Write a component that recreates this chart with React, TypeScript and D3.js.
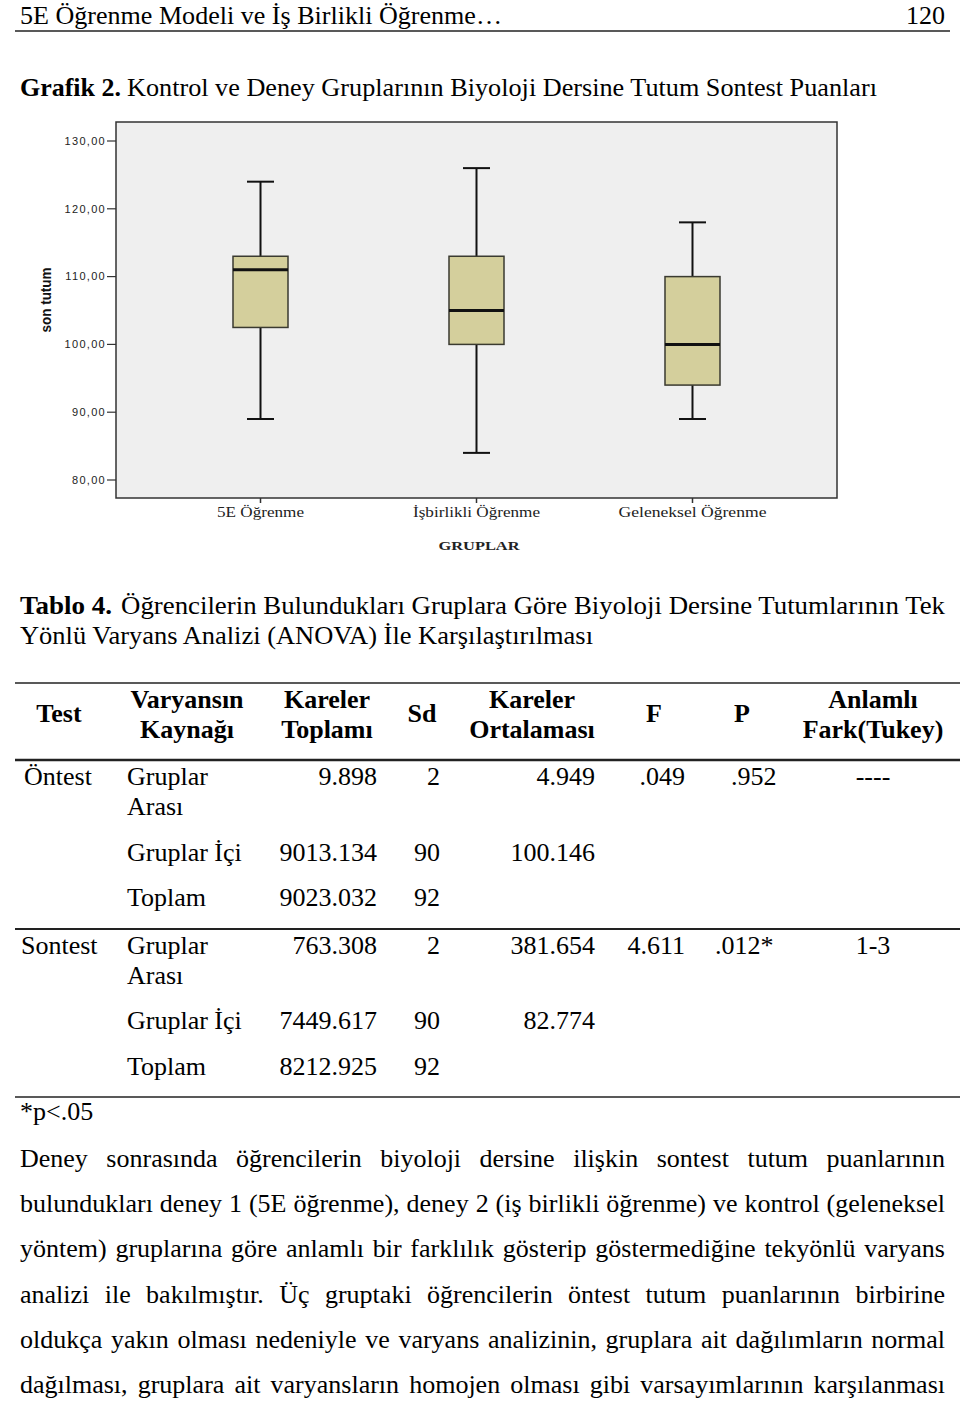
import React, { useEffect, useRef } from "react";
import * as d3 from "d3";

// ---------- Chart data ----------
const groups = ["5E Öğrenme", "İşbirlikli Öğrenme", "Geleneksel Öğrenme"];
const whiskerLow = [89, 84, 89];
const q1 = [102.5, 100, 94];
const median = [111, 105, 100];
const q3 = [113, 113, 110];
const whiskerHigh = [124, 126, 118];
const yTicks = [80, 90, 100, 110, 120, 130];
const yTickLabels = ["80,00", "90,00", "100,00", "110,00", "120,00", "130,00"];
const yTitle = "son tutum";
const xTitle = "GRUPLAR";

// ---------- Page text ----------
const runningHead = "5E Öğrenme Modeli ve İş Birlikli Öğrenme…";
const pageNumber = "120";
const figLabel = "Grafik 2.";
const figTitle = "Kontrol ve Deney Gruplarının Biyoloji Dersine Tutum Sontest Puanları";
const tableLabel = "Tablo 4.";
const tableTitle1 = "Öğrencilerin Bulundukları Gruplara Göre Biyoloji Dersine Tutumlarının Tek";
const tableTitle2 = "Yönlü Varyans Analizi (ANOVA) İle Karşılaştırılması";

// ---------- Table data ----------
const tableHeaders = [
  ["Test"],
  ["Varyansın", "Kaynağı"],
  ["Kareler", "Toplamı"],
  ["Sd"],
  ["Kareler", "Ortalaması"],
  ["F"],
  ["P"],
  ["Anlamlı", "Fark(Tukey)"],
];
const testNames = ["Öntest", "Sontest"];
const sources = [["Gruplar", "Arası"], ["Gruplar İçi"], ["Toplam"]];
const sumSquares = [
  ["9.898", "9013.134", "9023.032"],
  ["763.308", "7449.617", "8212.925"],
];
const dfs = [
  ["2", "90", "92"],
  ["2", "90", "92"],
];
const meanSquares = [
  ["4.949", "100.146", ""],
  ["381.654", "82.774", ""],
];
const fValues = [".049", "4.611"];
const pValues = [".952", ".012*"];
const tukey = ["----", "1-3"];
const footnote = "*p<.05";

const paragraph = [
  "Deney sonrasında öğrencilerin biyoloji dersine ilişkin sontest tutum puanlarının",
  "bulundukları deney 1 (5E öğrenme), deney 2 (iş birlikli öğrenme) ve kontrol (geleneksel",
  "yöntem) gruplarına göre anlamlı bir farklılık gösterip göstermediğine tekyönlü varyans",
  "analizi ile bakılmıştır. Üç gruptaki öğrencilerin öntest tutum puanlarının birbirine",
  "oldukça yakın olması nedeniyle ve varyans analizinin, gruplara ait dağılımların normal",
  "dağılması, gruplara ait varyansların homojen olması gibi varsayımlarının karşılanması",
];

const SERIF = "'Liberation Serif', 'Times New Roman', serif";
const SANS = "'Liberation Sans', Arial, sans-serif";

export default function App() {
  const paraRef = useRef<SVGGElement>(null);

  useEffect(() => {
    if (!paraRef.current) return;
    d3.select(paraRef.current)
      .selectAll<SVGTextElement, unknown>("text")
      .each(function () {
        const el = this as SVGTextElement;
        el.style.wordSpacing = "0px";
        const len = el.getComputedTextLength();
        const target = 925;
        const spaces = (el.textContent || "").split(" ").length - 1;
        if (spaces > 0) el.style.wordSpacing = `${(target - len) / spaces}px`;
      });
  }, []);

  // chart geometry
  const frame = { x0: 116, x1: 837, y0: 122, y1: 498 };
  const y = d3.scaleLinear().domain([80, 130]).range([480, 141]);
  const x = d3.scalePoint<string>().domain(groups).range([frame.x0, frame.x1]).padding(0.669);
  const boxW = 55;
  const capW = 27;

  const colX = [59, 187, 327, 422, 532, 654, 742, 873];
  const rowYs = [
    [785, 861, 906],
    [954, 1029, 1075],
  ];
  const lineGap = 30;

  return (
    <svg
      width={960}
      height={1402}
      style={{ position: "absolute", left: 0, top: 0, background: "#fff" }}
      fontFamily={SERIF}
    >
      {/* running head */}
      <text x={20} y={24} fontSize={26} textLength={482} lengthAdjust="spacingAndGlyphs">
        {runningHead}
      </text>
      <text x={945} y={24} fontSize={26} textAnchor="end">
        {pageNumber}
      </text>
      <line x1={15} x2={950} y1={31} y2={31} stroke="#222" strokeWidth={1.5} />

      {/* figure title */}
      <text x={20} y={96} fontSize={26} fontWeight="bold" textLength={101} lengthAdjust="spacingAndGlyphs">
        {figLabel}
      </text>
      <text x={127} y={96} fontSize={26} textLength={750} lengthAdjust="spacingAndGlyphs">
        {figTitle}
      </text>

      {/* chart */}
      <g>
        <rect
          x={frame.x0}
          y={frame.y0}
          width={frame.x1 - frame.x0}
          height={frame.y1 - frame.y0}
          fill="#efefef"
          stroke="#333"
          strokeWidth={1.5}
        />
        {yTicks.map((t, i) => (
          <g key={t}>
            <line x1={frame.x0 - 9} x2={frame.x0} y1={y(t)} y2={y(t)} stroke="#333" strokeWidth={1.2} />
            <text
              x={frame.x0 - 10}
              y={y(t)}
              dy="0.35em"
              textAnchor="end"
              fontFamily={SANS}
              fontSize={11}
              letterSpacing={1.3}
              fill="#222"
            >
              {yTickLabels[i]}
            </text>
          </g>
        ))}
        <text
          transform="translate(51,300) rotate(-90)"
          textAnchor="middle"
          fontFamily={SANS}
          fontWeight="bold"
          fontSize={14}
          fill="#111"
          textLength={65}
          lengthAdjust="spacingAndGlyphs"
        >
          {yTitle}
        </text>

        {groups.map((g, i) => {
          const cx = x(g) as number;
          return (
            <g key={g}>
              <line x1={cx} x2={cx} y1={y(whiskerHigh[i])} y2={y(q3[i])} stroke="#111" strokeWidth={2} />
              <line x1={cx} x2={cx} y1={y(q1[i])} y2={y(whiskerLow[i])} stroke="#111" strokeWidth={2} />
              <line
                x1={cx - capW / 2}
                x2={cx + capW / 2}
                y1={y(whiskerHigh[i])}
                y2={y(whiskerHigh[i])}
                stroke="#111"
                strokeWidth={2}
              />
              <line
                x1={cx - capW / 2}
                x2={cx + capW / 2}
                y1={y(whiskerLow[i])}
                y2={y(whiskerLow[i])}
                stroke="#111"
                strokeWidth={2}
              />
              <rect
                x={cx - boxW / 2}
                y={y(q3[i])}
                width={boxW}
                height={y(q1[i]) - y(q3[i])}
                fill="#d4cf9c"
                stroke="#3a3a30"
                strokeWidth={1.5}
              />
              <line
                x1={cx - boxW / 2}
                x2={cx + boxW / 2}
                y1={y(median[i])}
                y2={y(median[i])}
                stroke="#111"
                strokeWidth={3}
              />
              <line x1={cx} x2={cx} y1={frame.y1} y2={frame.y1 + 5} stroke="#333" strokeWidth={1.5} />
              <text
                x={cx}
                y={517}
                textAnchor="middle"
                fontSize={14}
                fill="#222"
                textLength={[87, 127, 148][i]}
                lengthAdjust="spacingAndGlyphs"
              >
                {g}
              </text>
            </g>
          );
        })}
        <text
          x={479}
          y={550}
          textAnchor="middle"
          fontSize={13}
          fontWeight="bold"
          fill="#222"
          textLength={81}
          lengthAdjust="spacingAndGlyphs"
        >
          {xTitle}
        </text>
      </g>

      {/* table title */}
      <text x={20} y={614} fontSize={26} fontWeight="bold" textLength={92} lengthAdjust="spacingAndGlyphs">
        {tableLabel}
      </text>
      <text x={121} y={614} fontSize={26} textLength={824} lengthAdjust="spacingAndGlyphs">
        {tableTitle1}
      </text>
      <text x={20} y={644} fontSize={26} textLength={573} lengthAdjust="spacingAndGlyphs">
        {tableTitle2}
      </text>

      {/* table */}
      <line x1={15} x2={960} y1={683} y2={683} stroke="#222" strokeWidth={1.5} />
      {tableHeaders.map((h, i) =>
        h.length === 1 ? (
          <text key={i} x={colX[i]} y={722} fontSize={26} fontWeight="bold" textAnchor="middle">
            {h[0]}
          </text>
        ) : (
          <g key={i}>
            <text x={colX[i]} y={708} fontSize={26} fontWeight="bold" textAnchor="middle">
              {h[0]}
            </text>
            <text x={colX[i]} y={738} fontSize={26} fontWeight="bold" textAnchor="middle">
              {h[1]}
            </text>
          </g>
        )
      )}
      <line x1={15} x2={960} y1={760} y2={760} stroke="#222" strokeWidth={2.5} />

      {testNames.map((tn, b) => (
        <g key={tn} fontSize={26}>
          <text x={b === 0 ? 24 : 21} y={rowYs[b][0]}>
            {tn}
          </text>
          {sources.map((s, r) => (
            <g key={r}>
              <text x={127} y={rowYs[b][r]}>
                {s[0]}
              </text>
              {s[1] && (
                <text x={127} y={rowYs[b][r] + lineGap}>
                  {s[1]}
                </text>
              )}
              <text x={377} y={rowYs[b][r]} textAnchor="end">
                {sumSquares[b][r]}
              </text>
              <text x={440} y={rowYs[b][r]} textAnchor="end">
                {dfs[b][r]}
              </text>
              <text x={595} y={rowYs[b][r]} textAnchor="end">
                {meanSquares[b][r]}
              </text>
            </g>
          ))}
          <text x={685} y={rowYs[b][0]} textAnchor="end">
            {fValues[b]}
          </text>
          <text x={b === 0 ? 731 : 715} y={rowYs[b][0]}>
            {pValues[b]}
          </text>
          <text x={873} y={rowYs[b][0]} textAnchor="middle">
            {tukey[b]}
          </text>
        </g>
      ))}
      <line x1={15} x2={960} y1={929} y2={929} stroke="#222" strokeWidth={2} />
      <line x1={15} x2={960} y1={1097} y2={1097} stroke="#222" strokeWidth={1.5} />
      <text x={20} y={1120} fontSize={26}>
        {footnote}
      </text>

      {/* paragraph */}
      <g ref={paraRef} fontSize={26}>
        {paragraph.map((l, i) => (
          <text key={i} x={20} y={1167 + i * 45.2}>
            {l}
          </text>
        ))}
      </g>
    </svg>
  );
}
